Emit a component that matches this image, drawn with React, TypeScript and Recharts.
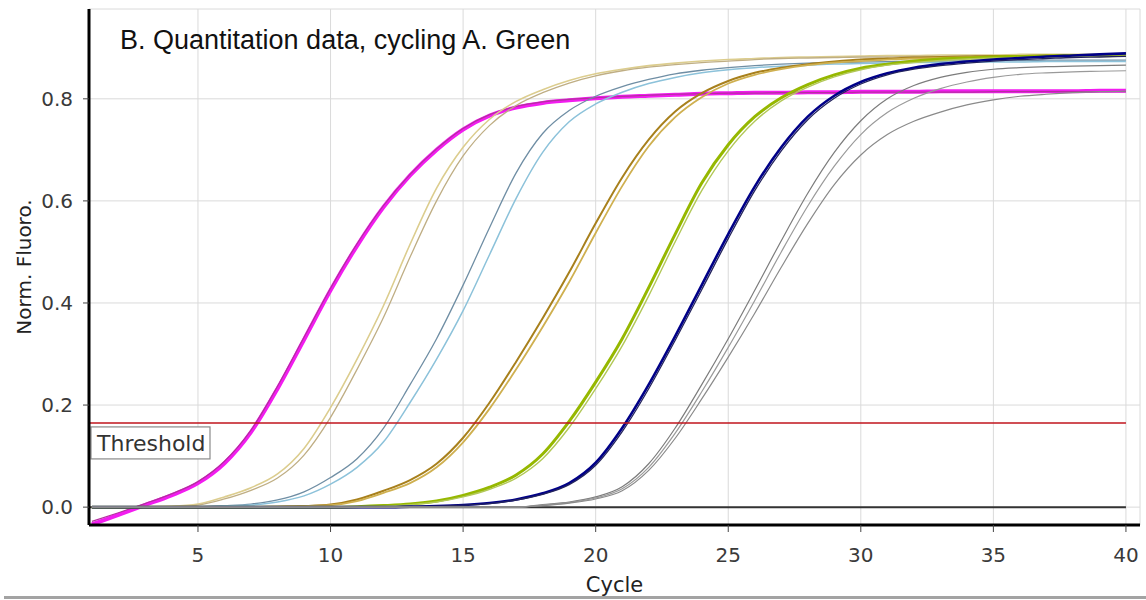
import { LineChart, Line, XAxis, YAxis, CartesianGrid, ReferenceLine } from "recharts";

// amplification run, normalised fluorescence per cycle
const cycles = [
  1, 2, 3, 4, 5, 6, 7, 8, 9, 10, 11, 12, 13, 14, 15, 16, 17, 18, 19, 20,
  21, 22, 23, 24, 25, 26, 27, 28, 29, 30, 31, 32, 33, 34, 35, 36, 37, 38, 39, 40,
];

const magentaA = [
  -0.034, -0.015, 0.004, 0.023, 0.047, 0.086, 0.147, 0.232, 0.328, 0.425,
  0.512, 0.588, 0.65, 0.7, 0.74, 0.767, 0.783, 0.792, 0.797, 0.801,
  0.804, 0.806, 0.808, 0.81, 0.811, 0.812, 0.812, 0.813, 0.813, 0.814,
  0.814, 0.814, 0.815, 0.815, 0.815, 0.815, 0.815, 0.815, 0.816, 0.816,
];
const magentaB = [
  -0.028, -0.011, 0.007, 0.026, 0.05, 0.09, 0.151, 0.237, 0.333, 0.429,
  0.516, 0.591, 0.652, 0.702, 0.742, 0.769, 0.785, 0.794, 0.799, 0.802,
  0.805, 0.807, 0.809, 0.81, 0.811, 0.811, 0.812, 0.812, 0.812, 0.813,
  0.813, 0.813, 0.813, 0.813, 0.814, 0.814, 0.814, 0.814, 0.814, 0.814,
];
const tanA = [
  0, 0, 0.001, 0.002, 0.006, 0.02, 0.038, 0.065, 0.115, 0.195,
  0.29, 0.395, 0.515, 0.625, 0.705, 0.76, 0.795, 0.818, 0.836, 0.849,
  0.858, 0.865, 0.87, 0.874, 0.877, 0.879, 0.881, 0.882, 0.883, 0.884,
  0.885, 0.885, 0.886, 0.886, 0.886, 0.887, 0.887, 0.887, 0.887, 0.888,
];
const tanB = [
  0, 0, 0, 0.001, 0.004, 0.016, 0.033, 0.057, 0.102, 0.176,
  0.27, 0.372, 0.49, 0.6, 0.688, 0.748, 0.787, 0.812, 0.831, 0.845,
  0.855, 0.862, 0.867, 0.871, 0.874, 0.877, 0.879, 0.88, 0.881, 0.882,
  0.882, 0.883, 0.883, 0.884, 0.884, 0.884, 0.885, 0.885, 0.885, 0.885,
];
const blueA = [
  0, 0, 0, 0, 0.001, 0.003, 0.006, 0.014, 0.03, 0.058,
  0.095, 0.155, 0.24, 0.33, 0.435, 0.548, 0.655, 0.732, 0.777, 0.805,
  0.824, 0.838, 0.849, 0.856, 0.861, 0.865, 0.868, 0.87, 0.871, 0.872,
  0.873, 0.874, 0.874, 0.875, 0.875, 0.875, 0.876, 0.876, 0.876, 0.876,
];
const blueB = [
  0, 0, 0, 0, 0, 0.002, 0.004, 0.01, 0.022, 0.045,
  0.078, 0.128, 0.205, 0.29, 0.385, 0.495, 0.605, 0.695, 0.755, 0.79,
  0.813, 0.83, 0.842, 0.851, 0.857, 0.861, 0.864, 0.866, 0.868, 0.869,
  0.87, 0.871, 0.871, 0.872, 0.872, 0.872, 0.873, 0.873, 0.873, 0.873,
];
const brownA = [
  0, 0, 0, 0, 0, 0, 0, 0.001, 0.002, 0.005,
  0.015, 0.032, 0.053, 0.085, 0.136, 0.205, 0.285, 0.37, 0.46, 0.556,
  0.646, 0.72, 0.775, 0.811, 0.835, 0.851, 0.861, 0.868, 0.873, 0.877,
  0.879, 0.881, 0.882, 0.883, 0.884, 0.884, 0.885, 0.885, 0.886, 0.886,
];
const brownB = [
  0, 0, 0, 0, 0, 0, 0, 0.001, 0.002, 0.004,
  0.012, 0.028, 0.047, 0.078, 0.127, 0.193, 0.27, 0.353, 0.441, 0.537,
  0.629, 0.707, 0.764, 0.803, 0.83, 0.847, 0.858, 0.866, 0.871, 0.874,
  0.877, 0.879, 0.88, 0.881, 0.882, 0.883, 0.883, 0.884, 0.884, 0.884,
];
const greenA = [
  0, 0, 0, 0, 0, 0, 0, 0, 0, 0,
  0.001, 0.003, 0.006, 0.012, 0.023, 0.039, 0.063, 0.104, 0.168, 0.245,
  0.33, 0.43, 0.535, 0.635, 0.71, 0.765, 0.802, 0.828, 0.847, 0.86,
  0.868, 0.874, 0.878, 0.88, 0.882, 0.883, 0.884, 0.885, 0.885, 0.886,
];
const greenB = [
  0, 0, 0, 0, 0, 0, 0, 0, 0, 0,
  0.001, 0.002, 0.005, 0.01, 0.02, 0.035, 0.057, 0.095, 0.156, 0.232,
  0.316, 0.414, 0.52, 0.62, 0.698, 0.756, 0.796, 0.823, 0.843, 0.857,
  0.866, 0.871, 0.875, 0.878, 0.88, 0.881, 0.882, 0.883, 0.883, 0.884,
];
const navyA = [
  0, 0, 0, 0, 0, 0, 0, 0, 0, 0,
  0, 0, 0.001, 0.002, 0.004, 0.008, 0.015, 0.027, 0.047, 0.087,
  0.155, 0.24, 0.335, 0.435, 0.535, 0.628, 0.705, 0.765, 0.806, 0.833,
  0.85, 0.861, 0.868, 0.873, 0.877, 0.88, 0.883, 0.885, 0.887, 0.889,
];
const navyB = [
  0, 0, 0, 0, 0, 0, 0, 0, 0, 0,
  0, 0, 0.001, 0.002, 0.004, 0.007, 0.014, 0.025, 0.044, 0.082,
  0.148, 0.232, 0.327, 0.426, 0.526, 0.62, 0.698, 0.759, 0.801, 0.829,
  0.847, 0.858, 0.865, 0.87, 0.874, 0.877, 0.879, 0.881, 0.882, 0.883,
];
const grayA = [
  0, 0, 0, 0, 0, 0, 0, 0, 0, 0,
  0, 0, 0, 0, 0, 0, 0, 0.005, 0.01, 0.02,
  0.04, 0.085, 0.155, 0.24, 0.33, 0.425, 0.522, 0.615, 0.695, 0.757,
  0.8, 0.826, 0.842, 0.852, 0.858, 0.861, 0.863, 0.864, 0.865, 0.866,
];
const grayB = [
  0, 0, 0, 0, 0, 0, 0, 0, 0, 0,
  0, 0, 0, 0, 0, 0, 0, 0.004, 0.009, 0.018,
  0.036, 0.078, 0.145, 0.226, 0.313, 0.405, 0.5, 0.59, 0.668, 0.73,
  0.773, 0.801, 0.82, 0.833, 0.842, 0.848, 0.851, 0.853, 0.854, 0.855,
];
const grayC = [
  0, 0, 0, 0, 0, 0, 0, 0, 0, 0,
  0, 0, 0, 0, 0, 0, 0, 0.003, 0.008, 0.016,
  0.032, 0.072, 0.135, 0.212, 0.294, 0.38, 0.47, 0.556, 0.632, 0.69,
  0.73, 0.756, 0.774, 0.788, 0.798, 0.805, 0.809, 0.812, 0.814, 0.815,
];

const threshold = 0.165;
const xTicks = [5, 10, 15, 20, 25, 30, 35, 40];
const yTicks = [0, 0.2, 0.4, 0.6, 0.8];

const xDomain: [number, number] = [0.89, 40.53];
const yDomain: [number, number] = [-0.035, 0.976];

// draw order: magenta underneath, later groups on top
const series = [
  { key: "magentaA", values: magentaA, color: "#f21cf0", width: 4 },
  { key: "magentaB", values: magentaB, color: "#b4309e", width: 1.2 },
  { key: "tanA", values: tanA, color: "#dccd8e", width: 1.6 },
  { key: "tanB", values: tanB, color: "#bfae84", width: 1.3 },
  { key: "blueA", values: blueA, color: "#6f8ea4", width: 1.3 },
  { key: "blueB", values: blueB, color: "#8cc2da", width: 1.5 },
  { key: "brownA", values: brownA, color: "#a8801c", width: 2 },
  { key: "brownB", values: brownB, color: "#cfb050", width: 1.8 },
  { key: "greenA", values: greenA, color: "#96b800", width: 3 },
  { key: "greenB", values: greenB, color: "#b2c858", width: 1.4 },
  { key: "navyA", values: navyA, color: "#000088", width: 2.6 },
  { key: "navyB", values: navyB, color: "#23235e", width: 1.3 },
  { key: "grayA", values: grayA, color: "#7c7c7c", width: 1.2 },
  { key: "grayB", values: grayB, color: "#9a9a9a", width: 1.2 },
  { key: "grayC", values: grayC, color: "#8a8a8a", width: 1.2 },
];

const rows = cycles.map((cycle, i) => {
  const row: Record<string, number> = { cycle };
  series.forEach((s) => {
    row[s.key] = s.values[i];
  });
  return row;
});

const tickFont = { fontFamily: "DejaVu Sans", fontSize: 20, fill: "#3a3a3a" };

function ThresholdTag(props: any) {
  const vb = props.viewBox || { x: 89, y: 423 };
  const x = vb.x + 2;
  const y = vb.y + 4;
  return (
    <g>
      <rect x={x} y={y} width={119} height={32} fill="#fff" stroke="#8a8a8a" strokeWidth={1.2} />
      <text x={x + 6} y={y + 24} fontFamily="DejaVu Sans" fontSize={22} fill="#333">
        Threshold
      </text>
    </g>
  );
}

function YTitle(props: any) {
  const vb = props.viewBox || { x: 0, y: 9, height: 516 };
  const cy = vb.y + vb.height / 2;
  return (
    <text
      x={24}
      y={cy}
      transform={`rotate(-90 24 ${cy})`}
      textAnchor="middle"
      dominantBaseline="central"
      fontFamily="DejaVu Sans"
      fontSize={20}
      fill="#222"
    >
      Norm. Fluoro.
    </text>
  );
}

function XTitle(props: any) {
  const vb = props.viewBox || { x: 89, y: 525, width: 1051 };
  return (
    <text
      x={vb.x + vb.width / 2}
      y={592}
      textAnchor="middle"
      fontFamily="DejaVu Sans"
      fontSize={21}
      fill="#222"
    >
      Cycle
    </text>
  );
}

export default function App() {
  return (
    <div style={{ position: "fixed", left: 0, top: 0, width: 1146, height: 600, background: "#fff" }}>
      <LineChart
        width={1146}
        height={600}
        data={rows}
        margin={{ top: 9, right: 6, bottom: 0, left: 0 }}
      >
        <CartesianGrid stroke="#dadada" strokeWidth={1} />
        <XAxis
          dataKey="cycle"
          type="number"
          domain={xDomain}
          ticks={xTicks}
          allowDataOverflow
          height={75}
          tickSize={7}
          tickMargin={16}
          tick={tickFont}
          tickLine={{ stroke: "#444" }}
          axisLine={{ stroke: "#000", strokeWidth: 3 }}
          label={<XTitle />}
        />
        <YAxis
          type="number"
          domain={yDomain}
          ticks={yTicks}
          allowDataOverflow
          width={89}
          tickSize={6}
          tickMargin={10}
          tick={tickFont}
          tickLine={{ stroke: "#444" }}
          tickFormatter={(v: number) => v.toFixed(1)}
          axisLine={{ stroke: "#000", strokeWidth: 3 }}
          label={<YTitle />}
        />
        <XAxis
          xAxisId="frame"
          orientation="top"
          type="number"
          dataKey="cycle"
          domain={xDomain}
          allowDataOverflow
          height={0}
          tick={false}
          tickLine={false}
          axisLine={{ stroke: "#111", strokeWidth: 2 }}
        />
        <YAxis
          yAxisId="frame"
          orientation="right"
          type="number"
          domain={yDomain}
          allowDataOverflow
          width={0}
          tick={false}
          tickLine={false}
          axisLine={{ stroke: "#111", strokeWidth: 2 }}
        />
        <ReferenceLine
          segment={[
            { x: xDomain[0], y: 0 },
            { x: 40, y: 0 },
          ]}
          stroke="#333"
          strokeWidth={2}
        />
        {series.map((s) => (
          <Line
            key={s.key}
            dataKey={s.key}
            type="monotone"
            stroke={s.color}
            strokeWidth={s.width}
            dot={false}
            activeDot={false}
            isAnimationActive={false}
          />
        ))}
        <ReferenceLine
          segment={[
            { x: xDomain[0], y: threshold },
            { x: 40, y: threshold },
          ]}
          stroke="#c0141c"
          strokeWidth={1.5}
          label={<ThresholdTag />}
        />
      </LineChart>
      <div
        style={{
          position: "absolute",
          left: 120,
          top: 27,
          fontFamily: "Liberation Sans, Arial, sans-serif",
          fontSize: 27,
          lineHeight: "27px",
          color: "#111",
          whiteSpace: "nowrap",
        }}
      >
        B. Quantitation data, cycling A. Green
      </div>
      <div style={{ position: "absolute", left: 4, top: 596, width: 1142, height: 3, background: "#a3a3a3" }} />
    </div>
  );
}
